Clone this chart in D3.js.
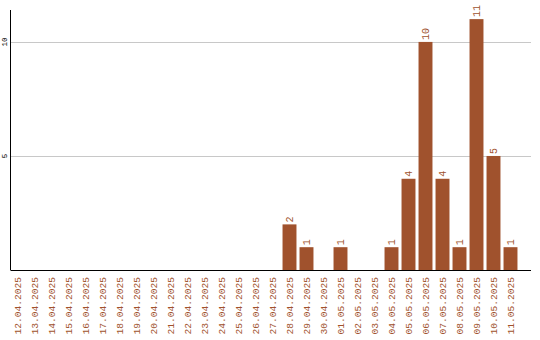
<!DOCTYPE html>
<html>
<head>
<meta charset="utf-8">
<script src="https://cdn.jsdelivr.net/npm/d3@7"></script>
<style>
  body { margin: 0; background: #fff; }
  text { font-family: "Liberation Mono", "DejaVu Sans Mono", monospace; }
</style>
</head>
<body>
<div id="chart"></div>
<script>
// dates shown on the x axis, one bar slot per day
const days = ["12.04.2025","13.04.2025","14.04.2025","15.04.2025","16.04.2025","17.04.2025",
  "18.04.2025","19.04.2025","20.04.2025","21.04.2025","22.04.2025","23.04.2025","24.04.2025",
  "25.04.2025","26.04.2025","27.04.2025","28.04.2025","29.04.2025","30.04.2025","01.05.2025",
  "02.05.2025","03.05.2025","04.05.2025","05.05.2025","06.05.2025","07.05.2025","08.05.2025",
  "09.05.2025","10.05.2025","11.05.2025"]
const counts = [0,0,0,0,0,0,0,0,0,0,0,0,0,0,0,0,2,1,0,1,0,0,1,4,10,4,1,11,5,1]
const yTicks = [5, 10]

const w = 540
const h = 340
const padLeft = 10.5, padRight = 531, padTop = 10, baseY = 270
const color = "#a0522d"

const svg = d3.select("#chart")
              .append("svg")
              .attr("width", w)
              .attr("height", h)

const x = d3.scaleBand()
            .domain(days)
            .range([9, 519])
            .paddingInner(0.18)
            .paddingOuter(0.09)

const y = d3.scaleLinear()
            .domain([0, 11.4])
            .range([baseY, padTop])

const rows = days.map((d, i) => ({day: d, n: counts[i]})).filter(d => d.n > 0)

// gridlines
svg.selectAll("line.grid")
   .data(yTicks)
   .enter()
   .append("line")
   .attr("class", "grid")
   .attr("x1", padLeft)
   .attr("x2", padRight)
   .attr("y1", d => Math.round(y(d)) + 0.5)
   .attr("y2", d => Math.round(y(d)) + 0.5)
   .attr("stroke", "#c8c8c8")

// y tick labels, rotated
svg.selectAll("text.ytick")
   .data(yTicks)
   .enter()
   .append("text")
   .attr("class", "ytick")
   .attr("transform", d => `translate(7,${y(d)}) rotate(-90)`)
   .attr("text-anchor", "middle")
   .attr("font-size", 7.5)
   .attr("fill", "#000")
   .text(d => d)

// bars
svg.selectAll("rect.bar")
   .data(rows)
   .enter()
   .append("rect")
   .attr("class", "bar")
   .attr("x", d => x(d.day))
   .attr("y", d => y(d.n))
   .attr("width", x.bandwidth())
   .attr("height", d => baseY - y(d.n))
   .attr("fill", color)

// value labels above bars
svg.selectAll("text.val")
   .data(rows)
   .enter()
   .append("text")
   .attr("class", "val")
   .attr("transform", d => `translate(${x(d.day) + x.bandwidth() / 2},${y(d.n) - 2}) rotate(-90)`)
   .attr("dy", "0.35em")
   .attr("font-size", 10)
   .attr("fill", color)
   .text(d => d.n)

// x labels
svg.selectAll("text.xlab")
   .data(days)
   .enter()
   .append("text")
   .attr("class", "xlab")
   .attr("transform", d => `translate(${x(d) + x.bandwidth() / 2},${baseY + 7}) rotate(-90)`)
   .attr("dy", "0.35em")
   .attr("text-anchor", "end")
   .attr("font-size", 9.6)
   .attr("fill", color)
   .text(d => d)

// axis lines
svg.append("line")
   .attr("x1", padLeft).attr("x2", padLeft)
   .attr("y1", padTop).attr("y2", baseY)
   .attr("stroke", "#000")
svg.append("line")
   .attr("x1", padLeft).attr("x2", padRight)
   .attr("y1", baseY + 0.5).attr("y2", baseY + 0.5)
   .attr("stroke", "#000")
</script>
</body>
</html>
